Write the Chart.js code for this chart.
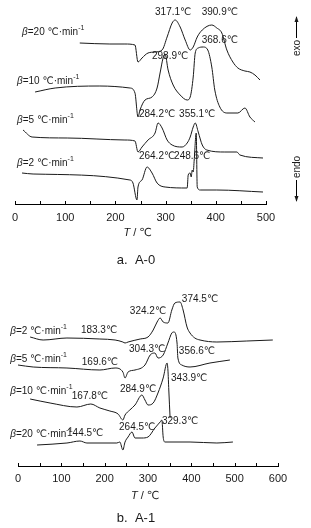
<!DOCTYPE html>
<html lang="zh">
<head>
<meta charset="UTF-8">
<title>DSC curves A-0 / A-1</title>
<script src="https://cdn.jsdelivr.net/npm/chart.js@4.4.0/dist/chart.umd.min.js"></script>
<style>
body { margin: 0; background: #fff; }
#wrap { position: relative; width: 311px; height: 528px; }
canvas { position: absolute; left: 0; }
</style>
</head>
<body>
<div id="wrap">
  <canvas id="a0" width="311" height="264" style="top:0"></canvas>
  <canvas id="a1" width="311" height="264" style="top:264px"></canvas>
</div>
<script>
// ---- A-0 : temperature (°C) and heat flow (a.u., offset per curve) ----
var a0T20 = [129,189,219,239,245,253,265,279,293,303,313,319,329,339,349,355,363,373,392,402,412,422,434,444,458,468,478,488];
var a0H20 = [161,160,160,159,142,146,151,152,154,167,181,184,177,164,154,157,167,174,179,176,171,154,142,136,133,132,129,124];
var a0T10 = [40,80,169,229,239,245,249,259,273,283,289,295,299,305,315,329,343,349,355,359,365,375,384,392,398,408,422,444,458,468,478];
var a0H10 = [112,116,118,116,111,87,94,104,107,116,131,146,150,134,119,109,104,107,127,151,156,157,154,137,114,97,91,91,96,87,82];
var a0T5 = [16,34,104,219,239,245,253,265,279,285,293,303,313,333,343,349,355,359,365,373,382,418,442,448,494];
var a0H5 = [74,67,66,64,63,52,57,64,71,81,76,64,59,57,61,67,77,81,72,59,54,52,52,49,46];
var a0T2 = [14,36,229,235,243,245,253,263,273,283,299,343,345,349,351,353,355,357,361,363,369,402,494];
var a0H2 = [31,30,24,21,4,17,24,37,31,21,17,16,29,31,27,34,32,44,71,17,14,14,12];

var a0Rates = ['20', '10', '5', '2'];
var a0Peaks = ['317.1℃','390.9℃','298.9℃','368.6℃','284.2℃','355.1℃','264.2℃','248.6℃'];
var a0PeakT = [315,408,309,408,283,363,283,353];
var a0PeakH = [192,192,148,164,90,90,48,48];
var a0RateT = [14,4,4,4];
var a0RateH = [172,123,84,41];

// ---- A-1 ----
var a1T2 = [28,58,113,189,224,242,247,254,282,300,312,321,328,335,346,355,362,374,381,390,397,408,420,459,528,588];
var a1H2 = [129,126,128,127,126,124,123,124,127,129,136,144,148,144,143,156,163,164,156,139,133,128,126,124,125,126];
var a1T5 = [0,35,113,189,224,242,247,254,270,293,305,316,323,335,346,355,360,367,369,378,397,443,489];
var a1H5 = [101,99,98,96,98,94,88,94,96,101,111,113,108,111,123,133,134,123,108,101,99,103,106];
var a1T10 = [28,74,136,168,189,212,231,242,247,258,270,286,293,300,312,323,335,344,346,348,351];
var a1H10 = [67,63,59,62,58,55,52,46,51,56,61,71,66,61,63,73,88,103,96,76,48];
var a1T20 = [44,113,143,159,228,235,242,247,254,263,270,286,300,316,328,332,335,339,397,459,496];
var a1H20 = [21,23,25,23,23,24,16,24,29,34,28,28,29,38,44,46,29,24,24,23,24];

var a1Rates = ['2', '5', '10', '20'];
var a1Peaks = ['324.2℃','374.5℃','183.3℃','304.3℃','356.6℃','169.6℃','284.9℃','343.9℃','167.8℃','264.5℃','329.3℃','144.5℃'];
var a1PeakT = [300,420,187,298,413,189,277,395,166,275,374,155];
var a1PeakH = [155,167,136,117,115,104,77,88,70,39,45,33];
var a1RateT = [-18,-18,-18,-18];
var a1RateH = [135,107,75,32];

var FONT = '"Liberation Sans", "DejaVu Sans", Arial, sans-serif';
var INK = '#1a1a1a';

function richText(ctx, parts, x, y, size, align) {
    var fontOf = function (p) {
        return (p.it ? 'italic ' : '') + (p.sup ? size * 0.7 : size) + 'px ' + FONT;
    };
    var w = 0;
    parts.forEach(function (p) { ctx.font = fontOf(p); w += ctx.measureText(p.t).width; });
    var cx = align === 'center' ? x - w / 2 : x;
    ctx.textAlign = 'left';
    ctx.textBaseline = 'middle';
    parts.forEach(function (p) {
        ctx.font = fontOf(p);
        ctx.fillText(p.t, cx, p.sup ? y - size * 0.38 : y);
        cx += ctx.measureText(p.t).width;
    });
}

function arrow(ctx, x, y0, y1) {
    var d = y1 > y0 ? 1 : -1;
    ctx.beginPath();
    ctx.moveTo(x, y0);
    ctx.lineTo(x, y1);
    ctx.stroke();
    ctx.beginPath();
    ctx.moveTo(x, y1 + d);
    ctx.lineTo(x - 2, y1 - d * 5);
    ctx.lineTo(x + 2, y1 - d * 5);
    ctx.closePath();
    ctx.fill();
}

function makeChart(id, cfg) {
    var datasets = cfg.series.map(function (s) {
        return {
            data: s[0].map(function (t, i) { return { x: t, y: s[1][i] }; }),
            borderColor: INK,
            borderWidth: 1,
            pointRadius: 0,
            fill: false,
            clip: false,
            cubicInterpolationMode: 'monotone'
        };
    });

    var deco = {
        id: 'deco' + id,
        afterDraw: function (chart) {
            var ctx = chart.ctx, xs = chart.scales.x, ys = chart.scales.y;
            var area = chart.chartArea;
            ctx.save();
            ctx.strokeStyle = '#000';
            ctx.fillStyle = INK;
            ctx.lineWidth = 1;
            // inward tick marks
            xs.ticks.forEach(function (t) {
                var px = Math.round(xs.getPixelForValue(t.value)) + 0.5;
                ctx.beginPath();
                ctx.moveTo(px, area.bottom);
                ctx.lineTo(px, area.bottom - 3);
                ctx.stroke();
            });
            // peak temperatures
            cfg.peaks.forEach(function (txt, i) {
                richText(ctx, [{ t: txt }], xs.getPixelForValue(cfg.peakT[i]), ys.getPixelForValue(cfg.peakH[i]), 10, 'center');
            });
            // heating rates
            cfg.rates.forEach(function (r, i) {
                richText(ctx, [{ t: 'β', it: true }, { t: '=' + r + ' ℃·min' }, { t: '-1', sup: true }],
                    xs.getPixelForValue(cfg.rateT[i]), ys.getPixelForValue(cfg.rateH[i]), 10, 'left');
            });
            // axis title
            var mid = (area.left + area.right) / 2 - 3;
            richText(ctx, [{ t: 'T', it: true }, { t: ' / ℃' }], mid, area.bottom + cfg.titleGap, 11, 'center');
            // caption
            richText(ctx, [{ t: cfg.caption }], 136, chart.height - cfg.capGap, 13, 'center');
            // exo / endo markers
            if (cfg.exo) {
                var ax = area.right + 30.5;
                arrow(ctx, ax, 38, 17);
                arrow(ctx, ax, 180, 201);
                ctx.save();
                ctx.translate(ax + 1, 48);
                ctx.rotate(-Math.PI / 2);
                richText(ctx, [{ t: 'exo' }], 0, 0, 10, 'center');
                ctx.restore();
                ctx.save();
                ctx.translate(ax + 1, 167);
                ctx.rotate(-Math.PI / 2);
                richText(ctx, [{ t: 'endo' }], 0, 0, 10, 'center');
                ctx.restore();
            }
            ctx.restore();
        }
    };

    return new Chart(document.getElementById(id), {
        type: 'line',
        data: { datasets: datasets },
        options: {
            responsive: false,
            animation: false,
            devicePixelRatio: 1,
            layout: { padding: { left: cfg.padL, right: cfg.padR, top: 0, bottom: 0 } },
            plugins: { legend: { display: false }, tooltip: { enabled: false } },
            scales: {
                x: {
                    type: 'linear',
                    min: 0,
                    max: cfg.xMax,
                    afterFit: function (s) { s.height = cfg.axisH; },
                    grid: { display: false, drawTicks: false },
                    border: { display: true, color: '#000', width: 1 },
                    ticks: {
                        stepSize: 50,
                        autoSkip: false,
                        maxRotation: 0,
                        padding: cfg.tickPad,
                        color: INK,
                        font: { family: FONT, size: 11 },
                        callback: function (v) { return v % 100 === 0 ? v : ''; }
                    }
                },
                y: { display: false, min: 0, max: cfg.yMax }
            }
        },
        plugins: [deco]
    });
}

makeChart('a0', {
    series: [[a0T20, a0H20], [a0T10, a0H10], [a0T5, a0H5], [a0T2, a0H2]],
    peaks: a0Peaks, peakT: a0PeakT, peakH: a0PeakH,
    rates: a0Rates, rateT: a0RateT, rateH: a0RateH,
    xMax: 500, yMax: 204, padL: 15, padR: 45, axisH: 60, tickPad: 7,
    titleGap: 29, caption: 'a.  A-0', capGap: 4, exo: true
});

makeChart('a1', {
    series: [[a1T2, a1H2], [a1T5, a1H5], [a1T10, a1H10], [a1T20, a1H20]],
    peaks: a1Peaks, peakT: a1PeakT, peakH: a1PeakH,
    rates: a1Rates, rateT: a1RateT, rateH: a1RateH,
    xMax: 600, yMax: 202, padL: 18, padR: 33, axisH: 62, tickPad: 6,
    titleGap: 30, caption: 'b.  A-1', capGap: 10, exo: false
});
</script>
</body>
</html>
